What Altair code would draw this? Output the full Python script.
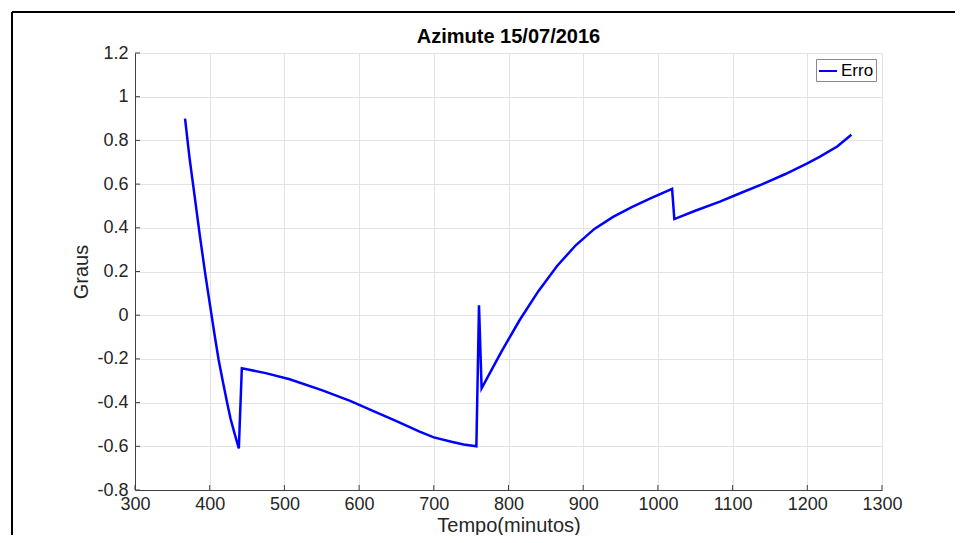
import altair as alt
import pandas as pd

# Data
minutes = [367, 373, 380, 387, 394, 400, 407, 412, 418, 423, 428, 434, 439,
           443, 475, 507, 550, 588, 620, 650, 681, 700, 725, 740, 757,
           760.5,
           764, 790, 815, 840, 865, 890, 915, 940, 965, 990, 1019,
           1022, 1050, 1083, 1110, 1140, 1170, 1200, 1217, 1240, 1259]
erro = [0.90, 0.72, 0.54, 0.36, 0.19, 0.055, -0.10, -0.205, -0.31, -0.395, -0.475, -0.55, -0.61,
        -0.243, -0.265, -0.293, -0.343, -0.392, -0.44, -0.485, -0.533, -0.559, -0.58, -0.592, -0.60,
        0.045,
        -0.335, -0.17, -0.022, 0.11, 0.225, 0.32, 0.395, 0.45, 0.495, 0.535, 0.578,
        0.44, 0.478, 0.52, 0.558, 0.60, 0.645, 0.695, 0.726, 0.772, 0.826]
series_name = ["Erro"]
title_text = ["Azimute 15/07/2016"]
x_ticks = [300, 400, 500, 600, 700, 800, 900, 1000, 1100, 1200, 1300]
y_ticks = [-0.8, -0.6, -0.4, -0.2, 0, 0.2, 0.4, 0.6, 0.8, 1, 1.2]

df = pd.DataFrame({"Tempo": minutes, "Erro": erro, "serie": series_name * len(minutes)})
xt = pd.DataFrame({"Tempo": x_ticks})
yt = pd.DataFrame({"Erro": y_ticks})
tt = pd.DataFrame({"t": title_text})
one = pd.DataFrame({"a": [0]})

W, H = 747, 437
PL, PT, PR, PB = 127, 45, 73, 45
FONT = "Liberation Sans"
TXT = "#262626"

xscale = alt.Scale(domain=[300, 1300], nice=False, zero=False)
yscale = alt.Scale(domain=[-0.8, 1.2], nice=False, zero=False)
xaxis = alt.Axis(values=x_ticks, title="Tempo(minutos)", format="d",
                 labelPadding=5, titlePadding=2, labelFlush=False)
yaxis = alt.Axis(values=y_ticks, title="Graus",
                 labelExpr="replace(format(datum.value, '.1~f'), '\u2212', '-')",
                 labelPadding=7, titlePadding=5, labelFlush=False)

line = alt.Chart(df).mark_line(strokeWidth=2.5, clip=True).encode(
    x=alt.X("Tempo:Q", scale=xscale, axis=xaxis),
    y=alt.Y("Erro:Q", scale=yscale, axis=yaxis),
    color=alt.Color("serie:N", scale=alt.Scale(domain=series_name, range=["#0000ff"]),
                    legend=alt.Legend(title=None, orient="top-right", offset=6, padding=2,
                                      strokeColor="#8a8a8a", fillColor="white",
                                      labelFontSize=17, labelFont=FONT, labelColor="black",
                                      symbolType="stroke", symbolSize=324,
                                      symbolStrokeWidth=2, labelOffset=3)),
)

xticks_layer = alt.Chart(xt).mark_rule(color="#404040", strokeWidth=1).encode(
    x=alt.X("Tempo:Q", scale=xscale, axis=xaxis),
    y=alt.value(H), y2=alt.value(H - 5),
)
yticks_layer = alt.Chart(yt).mark_rule(color="#404040", strokeWidth=1).encode(
    y=alt.Y("Erro:Q", scale=yscale, axis=yaxis),
    x=alt.value(0), x2=alt.value(5),
)

title_layer = alt.Chart(tt).mark_text(
    font=FONT, fontSize=20, fontWeight="bold", color="black",
    align="center", baseline="alphabetic",
).encode(text="t:N", x=alt.value(W / 2), y=alt.value(-10))

frame_left = alt.Chart(one).mark_rule(color="black", strokeWidth=2).encode(
    x=alt.value(-123), y=alt.value(-41), y2=alt.value(H + PB),
)
frame_top = alt.Chart(one).mark_rule(color="black", strokeWidth=2).encode(
    x=alt.value(-123), x2=alt.value(W + PR), y=alt.value(-41),
)

chart = alt.layer(line, xticks_layer, yticks_layer, title_layer, frame_left, frame_top).properties(
    width=W, height=H,
    autosize=alt.AutoSizeParams(type="none"),
    padding={"left": PL, "top": PT, "right": PR, "bottom": PB},
).configure_view(strokeWidth=0).configure_axis(
    labelFont=FONT, titleFont=FONT, labelFontSize=18, titleFontSize=20,
    labelColor=TXT, titleColor=TXT, titleFontWeight="normal",
    gridColor="#e3e3e3", gridWidth=1, domainColor="#404040", domainWidth=1,
    tickSize=0,
)

chart.save("out.html", embed_options={"renderer": "svg", "actions": False})
